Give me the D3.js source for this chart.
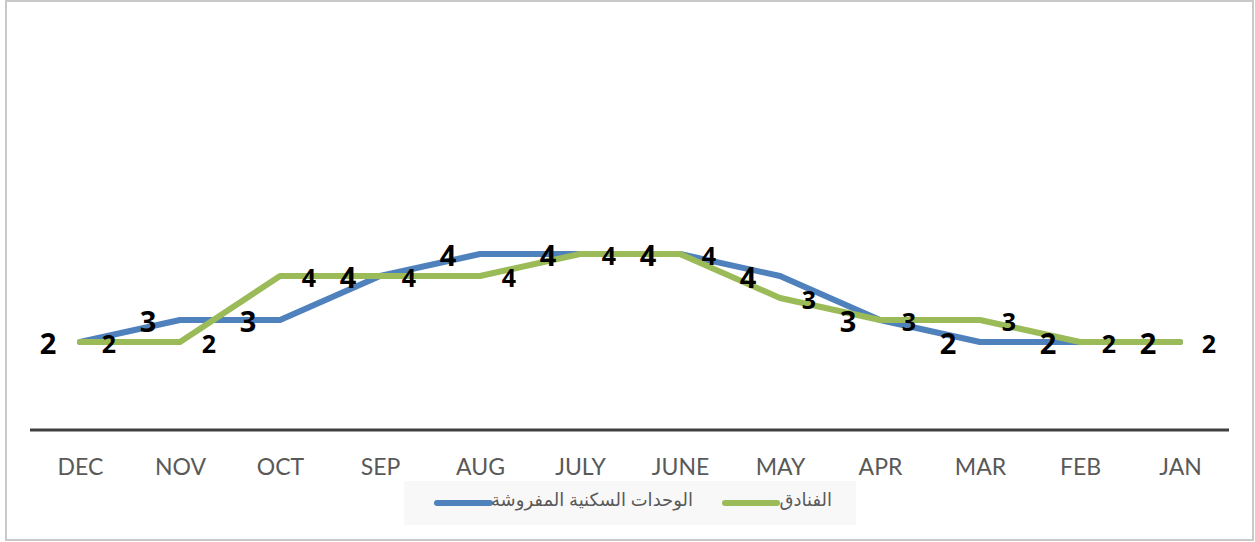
<!DOCTYPE html>
<html>
<head>
<meta charset="utf-8">
<script src="https://cdn.jsdelivr.net/npm/d3@7"></script>
<style>
    body { margin: 0; background: #fff; }
    svg { display: block; }
</style>
</head>
<body>
<script>
// categories in display order (right-to-left chart, so DEC first)
const months = ["DEC", "NOV", "OCT", "SEP", "AUG", "JULY", "JUNE", "MAY", "APR", "MAR", "FEB", "JAN"];
// الوحدات السكنية المفروشة
const furnishedValues = [2, 2.5, 2.5, 3.5, 4, 4, 4, 3.5, 2.5, 2, 2, 2];
// الفنادق
const hotelValues = [2, 2, 3.5, 3.5, 3.5, 4, 4, 3, 2.5, 2.5, 2, 2];
const seriesNames = ["الوحدات السكنية المفروشة", "الفنادق"];
const yDomain = [0, 9];

const width = 1255, height = 542;
const colors = ["#4f81bd", "#9bbb59"];
const axisFont = "Lato, 'Open Sans', sans-serif";
const labelFont = "'Open Sans', 'Noto Sans', sans-serif";

const svg = d3.select("body").append("svg")
    .attr("width", width)
    .attr("height", height);

// outer chart border
svg.append("rect")
    .attr("x", 6).attr("y", 1)
    .attr("width", 1247).attr("height", 539)
    .attr("fill", "#fff")
    .attr("stroke", "#c9c9c9")
    .attr("stroke-width", 2);

const x = d3.scalePoint()
    .domain(months)
    .range([30, 1230])
    .padding(0.5);

const y = d3.scaleLinear()
    .domain(yDomain)
    .range([430, 34]);

// x axis
const xAxis = svg.append("g")
    .attr("transform", "translate(0,430)")
    .call(d3.axisBottom(x).tickSize(0).tickPadding(0));
xAxis.select(".domain")
    .attr("d", "M30,0H1229")
    .attr("stroke", "#404040")
    .attr("stroke-width", 3);
xAxis.selectAll(".tick text")
    .attr("y", 37)
    .attr("dy", "0.35em")
    .attr("font-family", axisFont)
    .attr("font-size", 23)
    .attr("fill", "#595959");

const series = [
    {name: seriesNames[0], values: furnishedValues, color: colors[0], labelDx: -32, fontSize: 29},
    {name: seriesNames[1], values: hotelValues, color: colors[1], labelDx: 29, fontSize: 25}
];

const line = d3.line()
    .x(function(d, i){ return x(months[i]); })
    .y(function(d){ return y(d); });

series.forEach(function(s){
    svg.append("path")
        .datum(s.values)
        .attr("d", line)
        .attr("fill", "none")
        .attr("stroke", s.color)
        .attr("stroke-width", 6)
        .attr("stroke-linejoin", "round")
        .attr("stroke-linecap", "round");
});

// data labels (rounded to whole numbers)
series.forEach(function(s){
    svg.append("g")
        .selectAll("text")
        .data(s.values)
        .join("text")
        .attr("x", function(d, i){ return x(months[i]) + s.labelDx; })
        .attr("y", function(d){ return y(d) + 2; })
        .attr("dy", "0.36em")
        .attr("text-anchor", "middle")
        .attr("font-family", labelFont)
        .attr("font-weight", "bold")
        .attr("font-size", s.fontSize)
        .attr("fill", "#000")
        .text(function(d){ return Math.round(d); });
});

// legend
const legend = svg.append("g");
legend.append("rect")
    .attr("x", 404).attr("y", 481)
    .attr("width", 452).attr("height", 44)
    .attr("fill", "#f8f8f8");

const legendItems = [
    {name: seriesNames[0], color: colors[0], x0: 437, x1: 490, textX: 693},
    {name: seriesNames[1], color: colors[1], x0: 725, x1: 777, textX: 832}
];
legendItems.forEach(function(item){
    legend.append("line")
        .attr("x1", item.x0).attr("x2", item.x1)
        .attr("y1", 503).attr("y2", 503)
        .attr("stroke", item.color)
        .attr("stroke-width", 6)
        .attr("stroke-linecap", "round");
    legend.append("text")
        .attr("x", item.textX)
        .attr("y", 501)
        .attr("dy", "0.3em")
        .attr("text-anchor", "end")
        .attr("font-family", "'Noto Sans', 'DejaVu Sans', sans-serif")
        .attr("font-size", 18)
        .attr("fill", "#595959")
        .text(item.name);
});
</script>
</body>
</html>
